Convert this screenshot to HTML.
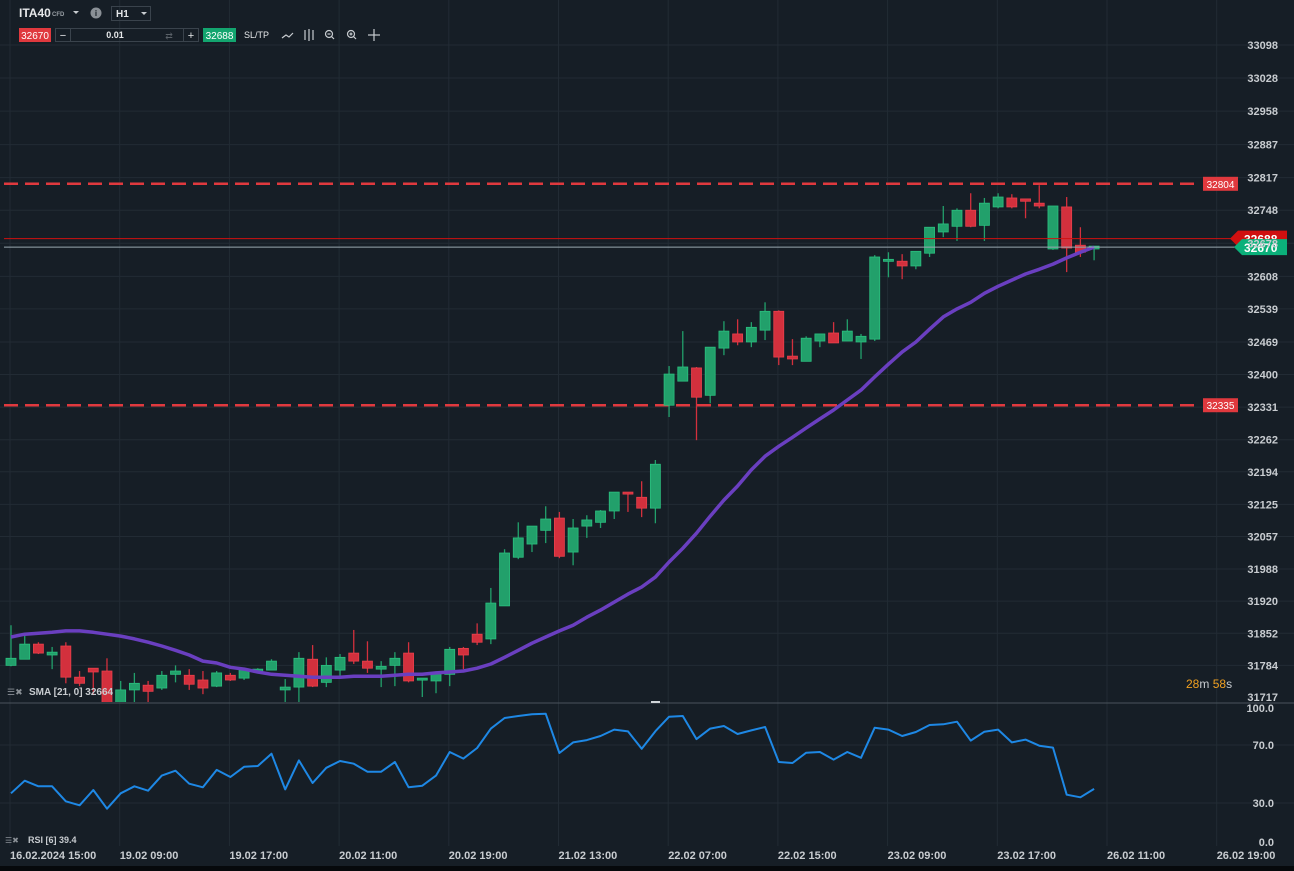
<!DOCTYPE html>
<html><head><meta charset="utf-8"><style>
html,body{margin:0;padding:0;background:#161e26;}
body{width:1294px;height:871px;overflow:hidden;position:relative;font-family:"Liberation Sans",sans-serif;}
svg{position:absolute;left:0;top:0;}
.t{font-family:"Liberation Sans",sans-serif;}
</style></head><body>
<svg id="chart" width="1294" height="871" viewBox="0 0 1294 871">
<defs><clipPath id="mainclip"><rect x="0" y="0" width="1294" height="702"/></clipPath></defs>
<rect x="0" y="0" width="1294" height="871" fill="#161e26"/>
<g id="grid"></g>
<g id="levels"></g>
<g id="candles" clip-path="url(#mainclip)"></g>
<g id="sma" clip-path="url(#mainclip)"></g>
<g id="tags"></g>
<g id="rsi"></g>
<g id="axes"></g>
<line x1="0" y1="703" x2="1294" y2="703" stroke="#4a535c" stroke-width="1"/>
<rect x="651" y="701" width="9" height="2" fill="#d0d4d8"/>
<rect x="0" y="866" width="1294" height="5" fill="#06090c"/>
<!-- toolbar -->
<text class="t" x="19" y="17" fill="#e6e8ea" font-size="12" font-weight="bold">ITA40</text>
<text class="t" x="52" y="16" fill="#9aa0a6" font-size="6" font-weight="bold">CFD</text>
<path d="M73 11 L79 11 L76 14 Z" fill="#c8ccd0"/>
<circle cx="96" cy="13" r="5.5" fill="#8a9096"/>
<text class="t" x="96" y="16" fill="#161e26" font-size="8" font-weight="bold" text-anchor="middle">i</text>
<rect x="111.5" y="6.5" width="39" height="14" fill="none" stroke="#3a434c"/>
<text class="t" x="116" y="17" fill="#e6e8ea" font-size="10" font-weight="bold">H1</text>
<path d="M141 12 L147 12 L144 15 Z" fill="#c8ccd0"/>
<rect x="19" y="28" width="32" height="14" fill="#e0393e"/>
<text class="t" x="35" y="39" fill="#fff" font-size="10" text-anchor="middle">32670</text>
<rect x="55.5" y="28.5" width="143" height="13" fill="none" stroke="#3a434c"/>
<line x1="70.5" y1="29" x2="70.5" y2="41" stroke="#3a434c"/>
<line x1="183.5" y1="29" x2="183.5" y2="41" stroke="#3a434c"/>
<text class="t" x="63" y="39" fill="#e6e8ea" font-size="11" text-anchor="middle">−</text>
<text class="t" x="115" y="38" fill="#e6e8ea" font-size="9" font-weight="bold" text-anchor="middle">0.01</text>
<text class="t" x="169" y="39" fill="#5a6168" font-size="9" text-anchor="middle">⇄</text>
<text class="t" x="191" y="39" fill="#e6e8ea" font-size="11" text-anchor="middle">+</text>
<rect x="203" y="28" width="33" height="14" fill="#13a56f"/>
<text class="t" x="219.5" y="39" fill="#fff" font-size="10" text-anchor="middle">32688</text>
<text class="t" x="244" y="38" fill="#e6e8ea" font-size="9">SL/TP</text>
<path d="M282 38 L286 35 L289 37 L293 33" stroke="#c8ccd0" fill="none" stroke-width="1.2"/>
<g stroke="#c8ccd0" stroke-width="1.2" fill="none"><line x1="305" y1="30" x2="305" y2="40"/><line x1="309" y1="29" x2="309" y2="41"/><line x1="313" y1="30" x2="313" y2="40"/></g>
<g stroke="#c8ccd0" stroke-width="1.2" fill="none"><circle cx="329" cy="34" r="3.5"/><line x1="327.5" y1="34" x2="330.5" y2="34"/><line x1="331.5" y1="36.5" x2="334" y2="39"/></g>
<g stroke="#c8ccd0" stroke-width="1.2" fill="none"><circle cx="351" cy="34" r="3.5"/><line x1="349.5" y1="34" x2="352.5" y2="34"/><line x1="351" y1="32.5" x2="351" y2="35.5"/><line x1="353.5" y1="36.5" x2="356" y2="39"/></g>
<g stroke="#c8ccd0" stroke-width="1.2" fill="none"><line x1="368" y1="35" x2="380" y2="35"/><line x1="374" y1="29" x2="374" y2="41"/></g>
<!-- legends -->
<text class="t" x="7" y="695" fill="#8a9096" font-size="9">☰✖</text>
<text class="t" x="29" y="695" fill="#c8ccd0" font-size="10" font-weight="bold">SMA [21, 0] 32664</text>
<text class="t" x="5" y="843" fill="#8a9096" font-size="8">☰✖</text>
<text class="t" x="28" y="843" fill="#c8ccd0" font-size="9" font-weight="bold">RSI [6] 39.4</text>
<text class="t" x="1186" y="688" font-size="12"><tspan fill="#f0a020">28</tspan><tspan fill="#c8ccd0">m </tspan><tspan fill="#f0a020">58</tspan><tspan fill="#c8ccd0">s</tspan></text>
</svg>
<script>
const opens  = [31784,31797,31829,31806,31825,31759,31778,31772,31685,31732,31742,31736,31765,31763,31753,31740,31763,31757,31770,31774,31732,31738,31797,31748,31774,31810,31793,31776,31784,31810,31753,31751,31765,31820,31850,31840,31910,32013,32041,32070,32096,32024,32079,32087,32111,32151,32140,32117,32335,32386,32414,32356,32456,32486,32469,32494,32534,32439,32428,32471,32488,32471,32469,32475,32640,32640,32630,32657,32702,32714,32748,32716,32755,32774,32772,32763,32666,32755,32674,32666];
const highs  = [31869,31850,31833,31823,31833,31772,31778,31799,31751,31768,31751,31772,31784,31776,31772,31772,31768,31776,31778,31797,31755,31812,31827,31801,31808,31859,31835,31793,31812,31833,31757,31768,31823,31823,31873,31948,32030,32087,32079,32121,32109,32094,32102,32113,32151,32151,32174,32219,32418,32492,32416,32458,32513,32517,32511,32553,32536,32475,32481,32486,32511,32517,32486,32653,32659,32655,32661,32712,32757,32752,32784,32774,32784,32782,32772,32801,32757,32776,32712,32672];
const lows   = [31782,31797,31808,31776,31746,31740,31721,31685,31685,31706,31706,31732,31748,31732,31723,31738,31751,31753,31768,31774,31706,31706,31738,31738,31761,31787,31768,31738,31740,31748,31717,31725,31740,31776,31827,31829,31910,32009,32024,32043,32011,31996,32054,32075,32094,32109,32098,32085,32310,32386,32261,32339,32441,32462,32458,32473,32420,32420,32428,32458,32467,32471,32433,32471,32606,32602,32623,32649,32691,32683,32712,32683,32752,32752,32731,32752,32664,32617,32649,32642];
const closes = [31799,31829,31810,31812,31759,31746,31770,31689,31732,31746,31729,31763,31772,31744,31736,31768,31753,31774,31776,31793,31738,31799,31740,31784,31801,31793,31778,31782,31799,31751,31757,31768,31818,31806,31833,31916,32022,32054,32079,32094,32015,32075,32092,32111,32151,32147,32117,32210,32401,32416,32352,32458,32492,32469,32500,32534,32437,32433,32477,32486,32467,32492,32481,32649,32644,32630,32661,32712,32719,32748,32714,32763,32776,32755,32767,32757,32757,32668,32659,32672];
const smaValues = [31844,31850,31852,31854,31857,31857,31854,31850,31846,31840,31833,31825,31816,31806,31793,31789,31780,31776,31770,31765,31763,31761,31759,31759,31759,31761,31761,31761,31763,31765,31765,31768,31770,31772,31778,31787,31801,31816,31831,31844,31857,31869,31886,31901,31918,31935,31950,31971,32003,32032,32064,32100,32134,32164,32198,32227,32248,32267,32287,32306,32325,32346,32367,32395,32422,32448,32469,32496,32522,32539,32553,32572,32587,32600,32613,32623,32634,32647,32659,32670];
const rsiValues = [36.7,45.4,41.5,41.5,31.2,28.4,39.0,26.1,36.7,41.5,38.5,48.9,52.3,43.3,40.8,52.8,47.9,55.0,55.5,64.0,39.4,59.4,43.8,54.3,59.0,57.1,51.6,51.6,58.3,40.8,41.9,48.9,65.2,60.6,67.9,81.3,88.6,90.0,91.2,91.6,64.5,71.8,73.4,76.2,80.6,79.4,67.4,79.5,89.5,90.0,74.1,81.3,83.1,77.6,80.1,82.4,58.3,57.6,64.7,65.2,59.9,65.2,61.2,81.9,80.6,76.2,79.0,83.8,84.3,86.1,73.0,79.2,80.6,71.8,73.7,69.5,68.2,35.7,33.9,39.7];
const priceTicks = [33098,33028,32958,32887,32817,32748,32678,32608,32539,32469,32400,32331,32262,32194,32125,32057,31988,31920,31852,31784,31717];
const rsiTicks = [100,70,30,0];
const rsiTickLabels = ["100.0","70.0","30.0","0.0"];
const timeLabels = ["16.02.2024 15:00","19.02 09:00","19.02 17:00","20.02 11:00","20.02 19:00","21.02 13:00","22.02 07:00","22.02 15:00","23.02 09:00","23.02 17:00","26.02 11:00","26.02 19:00"];
const levelDashed = [32804,32335];
const askPrice = 32688;
const bidPrice = 32670;

const NS="http://www.w3.org/2000/svg";
const P_TOP=33098,P_BOT=31717,Y_TOP=45,Y_BOT=697;
function y(p){return Y_TOP+(P_TOP-p)*(Y_BOT-Y_TOP)/(P_TOP-P_BOT);}
function x(i){return 11+13.71*i;}
function ry(v){return 803-(v-30)*1.45;}
function mk(tag,attrs,parent){const e=document.createElementNS(NS,tag);for(const k in attrs)e.setAttribute(k,attrs[k]);parent.appendChild(e);return e;}
const G=document.getElementById('grid'),L=document.getElementById('levels'),C=document.getElementById('candles'),S=document.getElementById('sma'),R=document.getElementById('rsi'),A=document.getElementById('axes'),T=document.getElementById('tags');
const GC="#222b34";
for(let k=0;k<12;k++){const gx=10+109.7*k;
 const l=mk('line',{x1:gx,y1:0,x2:gx,y2:846,stroke:GC,'stroke-width':1},G);
 
 
 const t=mk('text',{x:gx,y:859,fill:'#c8ccd0','font-size':11,'font-weight':'bold',class:'t'},A);
 t.textContent=timeLabels[k];
 
 
}
priceTicks.forEach(p=>{const py=y(p);
 if(p!==P_BOT){const l=mk('line',{x1:0,y1:py,x2:1294,y2:py,stroke:GC,'stroke-width':1},G);
 
 }
 const t=mk('text',{x:1278,y:py+4,fill:'#c8ccd0','font-size':11,'font-weight':'bold','text-anchor':'end',class:'t'},A);
 t.textContent=p;
 
 
});
rsiTicks.forEach((v,k)=>{
 if(v===70||v===30){const l=mk('line',{x1:0,y1:ry(v),x2:1294,y2:ry(v),stroke:GC,'stroke-width':1},G);
 
 }
 const ty=v===100?712:(v===0?846:ry(v)+4);
 const t=mk('text',{x:1274,y:ty,fill:'#c8ccd0','font-size':11,'font-weight':'bold','text-anchor':'end',class:'t'},A);
 t.textContent=rsiTickLabels[k];
 
 
});
levelDashed.forEach(p=>{const py=y(p);
 const l=mk('line',{x1:4,y1:py,x2:1200,y2:py,stroke:'#e0393e','stroke-width':2.5,'stroke-dasharray':'14 7'},L);
 
 
 const r=mk('rect',{x:1203,y:py-7,width:35,height:14,fill:'#e0393e'},L);
 
 
 const t=mk('text',{x:1220.5,y:py+4,fill:'#fff','font-size':10,'text-anchor':'middle',class:'t'},L);
 t.textContent=p;
 
 
});
for(let i=0;i<opens.length;i++){
 const up=closes[i]>=opens[i];const col=up?'#22a06b':'#d3303d';const cx=x(i);
 const w=mk('line',{x1:cx,y1:y(highs[i]),x2:cx,y2:y(lows[i]),stroke:col,'stroke-width':1.3},C);
 
 
 const top=y(Math.max(opens[i],closes[i])),bot=y(Math.min(opens[i],closes[i]));
 const b=mk('rect',{x:cx-5,y:top,width:10,height:Math.max(2,bot-top),fill:col,stroke:up?'#2bc07f':'#e8404c','stroke-width':0.8},C);
 
 
}
let d='';smaValues.forEach((v,i)=>{d+=(i?'L':'M')+x(i).toFixed(1)+' '+y(v).toFixed(1);});
const sp=mk('path',{d:d,stroke:'#6a3fc0','stroke-width':3.5,fill:'none','stroke-linejoin':'round'},S);


const ay=y(askPrice),by=y(bidPrice);
const al=mk('line',{x1:4,y1:ay,x2:1232,y2:ay,stroke:'#d01010','stroke-width':1},T);


const bl=mk('line',{x1:4,y1:by,x2:1236,y2:by,stroke:'#9aa8b0','stroke-width':1},T);


const at=mk('path',{d:`M1230 ${ay} L1238 ${ay-8} L1287 ${ay-8} L1287 ${ay+8} L1238 ${ay+8} Z`,fill:'#d01010'},T);


const att=mk('text',{x:1244,y:ay+5,fill:'#fff','font-size':12,'font-weight':'bold',class:'t'},T);
att.textContent=askPrice;


const bt=mk('path',{d:`M1234 ${by} L1242 ${by-8} L1287 ${by-8} L1287 ${by+8} L1242 ${by+8} Z`,fill:'#0bb07a'},T);


const btt=mk('text',{x:1244,y:by+5,fill:'#fff','font-size':12,'font-weight':'bold',class:'t'},T);
btt.textContent=bidPrice;


let rd='';rsiValues.forEach((v,i)=>{rd+=(i?'L':'M')+x(i).toFixed(1)+' '+ry(v).toFixed(1);});
const rp=mk('path',{d:rd,stroke:'#1e88e5','stroke-width':2,fill:'none','stroke-linejoin':'round'},R);


</script>
</body></html>
